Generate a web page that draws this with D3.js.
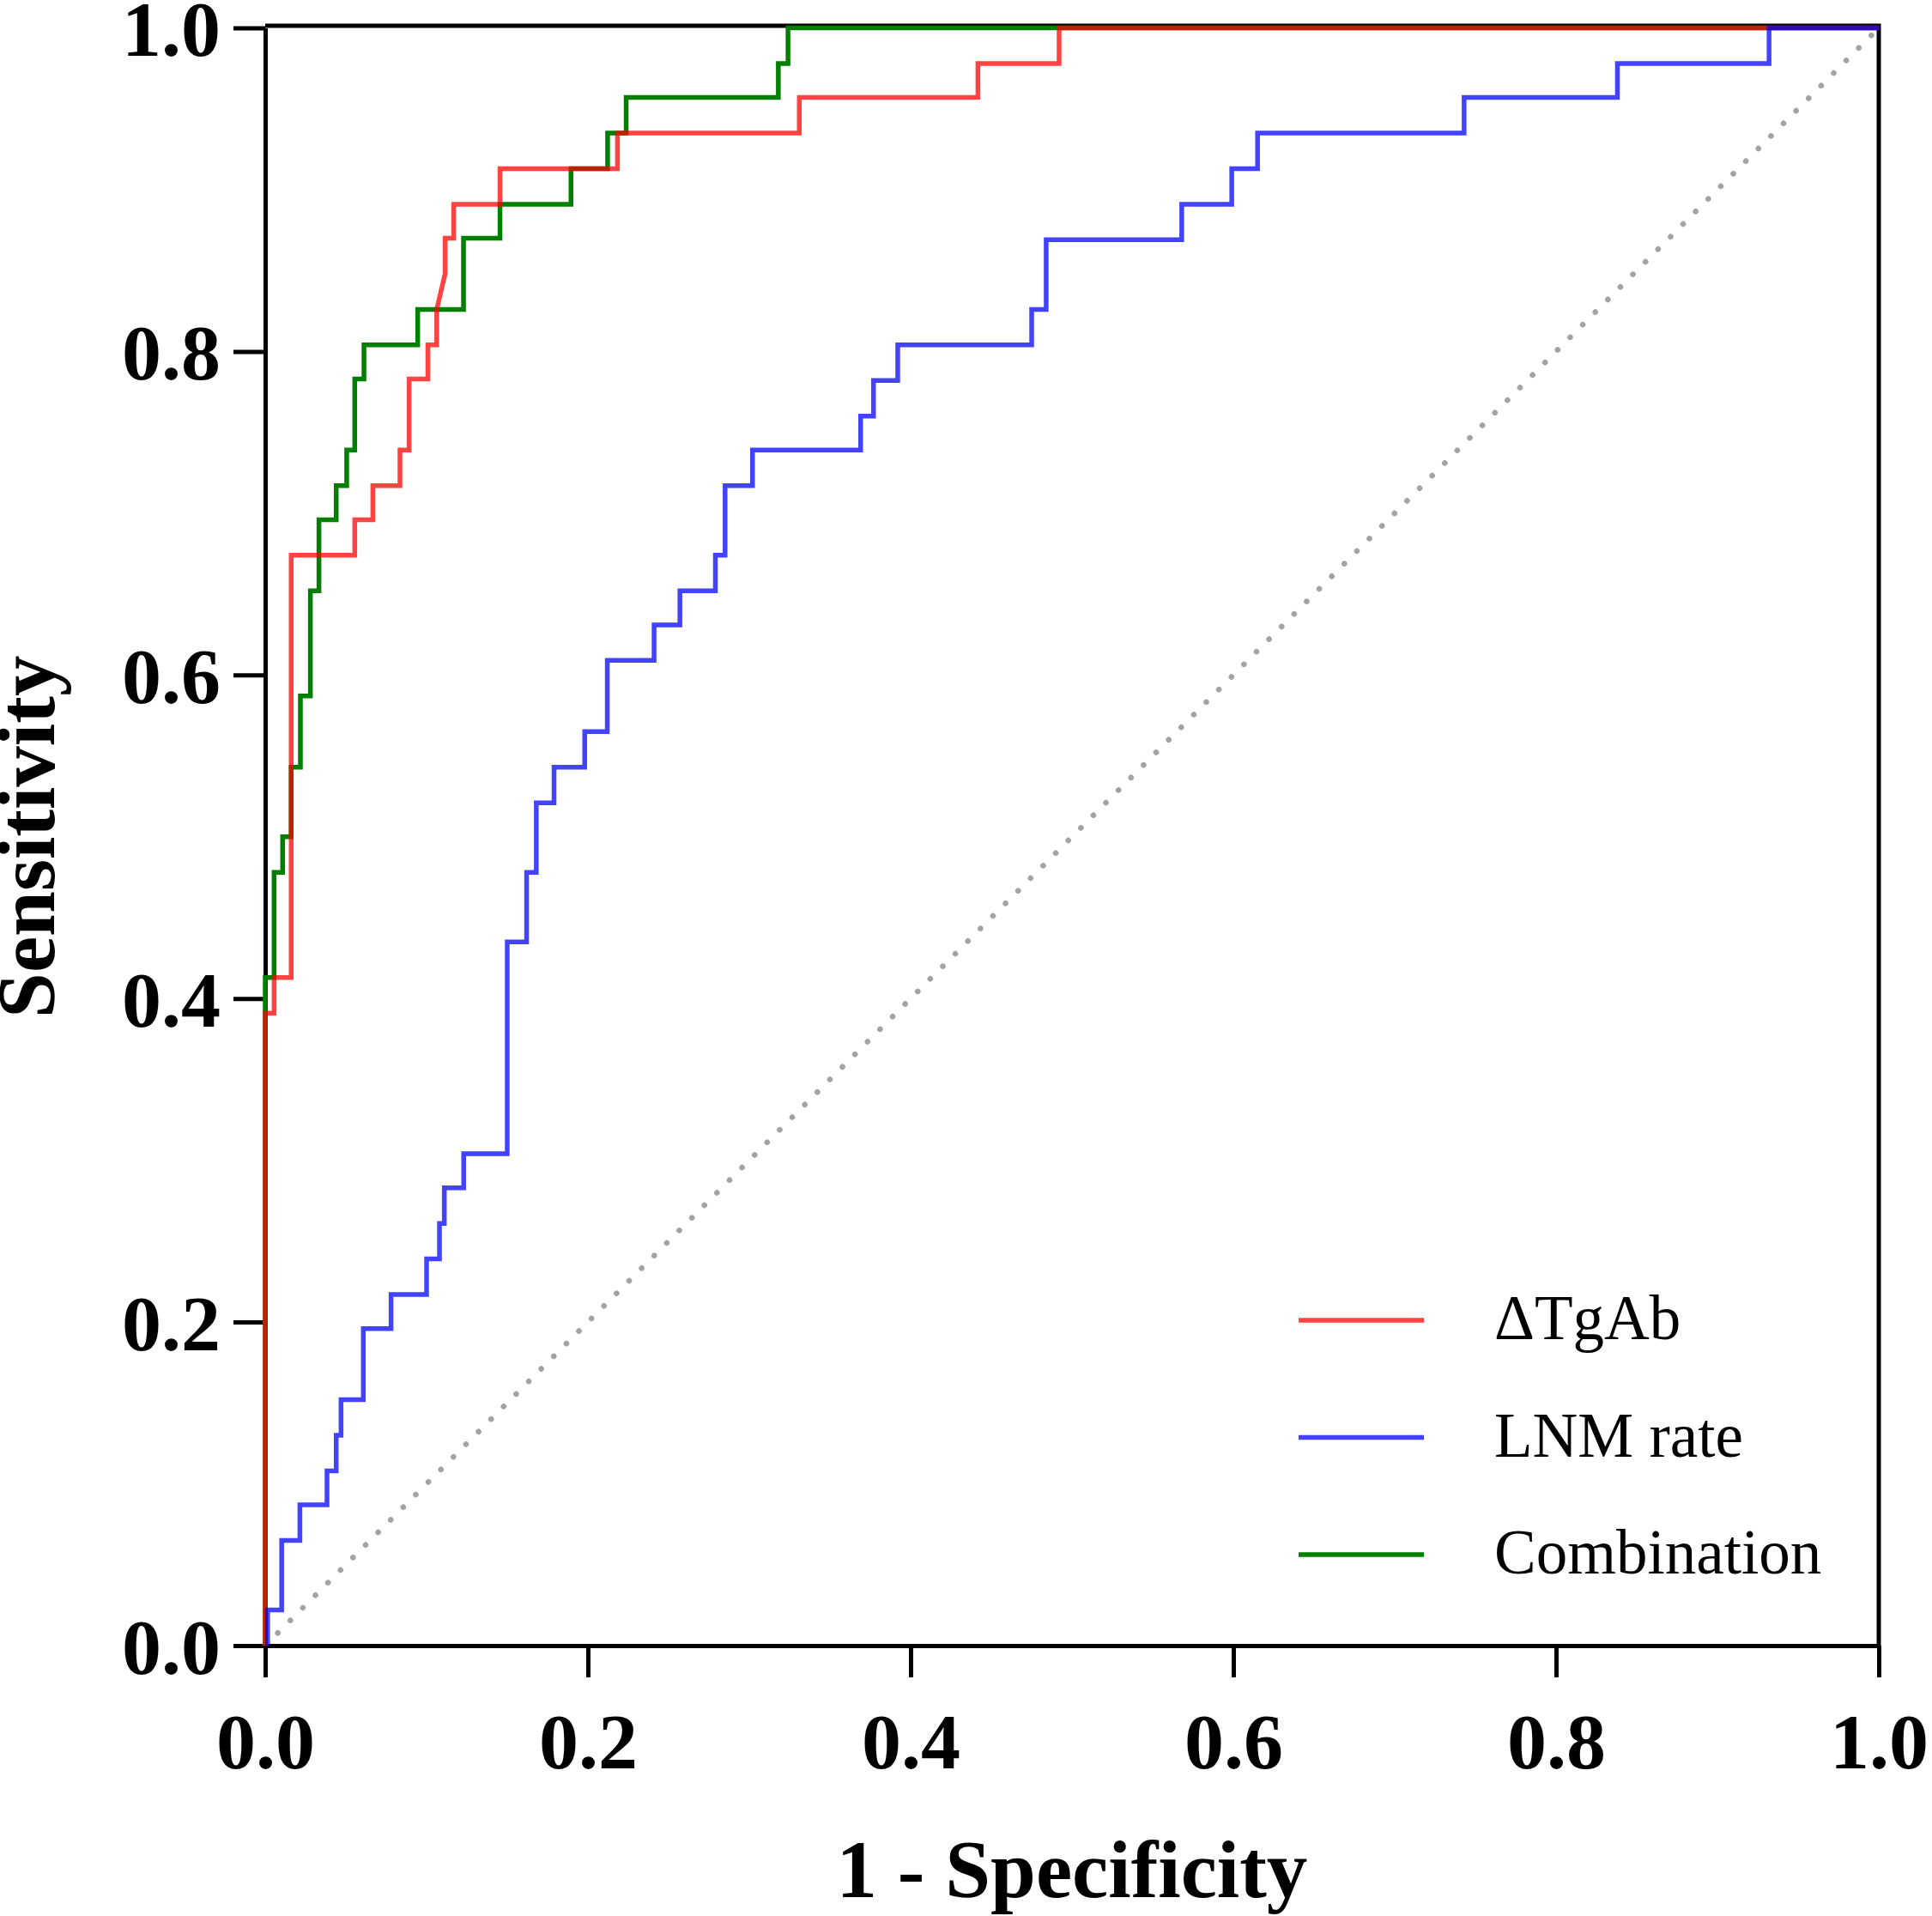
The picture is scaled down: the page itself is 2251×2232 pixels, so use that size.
<!DOCTYPE html>
<html>
<head>
<meta charset="utf-8">
<script src="https://cdn.jsdelivr.net/npm/d3@7"></script>
<style>
  html, body { margin: 0; padding: 0; background: #fff; }
  svg { display: block; }
</style>
</head>
<body>
<div id="content"><svg width="2251" height="2232"></svg></div>
<script>
// ROC curves, points as [1 - specificity, sensitivity]
var tgabPoints = [
    [0, 0], [0, 0.391], [0.0055, 0.391], [0.0055, 0.413], [0.0161, 0.413], [0.0161, 0.674],
    [0.0555, 0.674], [0.0555, 0.696], [0.0667, 0.696], [0.0667, 0.717], [0.0835, 0.717],
    [0.0835, 0.739], [0.0892, 0.739], [0.0892, 0.783], [0.1008, 0.783], [0.1008, 0.804],
    [0.1063, 0.804], [0.1063, 0.826], [0.1115, 0.848], [0.1115, 0.870], [0.1168, 0.870],
    [0.1168, 0.891], [0.1455, 0.891], [0.1455, 0.913], [0.2183, 0.913], [0.2183, 0.935],
    [0.331, 0.935], [0.331, 0.957], [0.4417, 0.957], [0.4417, 0.978], [0.492, 0.978],
    [0.492, 1], [1, 1]
];

var lnmPoints = [
    [0.0015, 0], [0.0015, 0.022], [0.0102, 0.022], [0.0102, 0.065], [0.0215, 0.065], [0.0215, 0.087],
    [0.0383, 0.087], [0.0383, 0.108], [0.044, 0.108], [0.044, 0.130], [0.047, 0.130], [0.047, 0.152],
    [0.0608, 0.152], [0.0608, 0.196], [0.078, 0.196], [0.078, 0.217], [0.100, 0.217], [0.100, 0.239],
    [0.108, 0.239], [0.108, 0.261], [0.111, 0.261], [0.111, 0.283], [0.123, 0.283], [0.123, 0.304],
    [0.150, 0.304], [0.150, 0.435], [0.162, 0.435], [0.162, 0.478], [0.168, 0.478], [0.168, 0.521],
    [0.179, 0.521], [0.179, 0.543], [0.198, 0.543], [0.198, 0.565], [0.212, 0.565], [0.212, 0.609],
    [0.241, 0.609], [0.241, 0.631], [0.257, 0.631], [0.257, 0.652], [0.279, 0.652], [0.279, 0.674],
    [0.285, 0.674], [0.285, 0.717], [0.302, 0.717], [0.302, 0.739], [0.369, 0.739], [0.369, 0.760],
    [0.377, 0.760], [0.377, 0.782], [0.392, 0.782], [0.392, 0.804], [0.475, 0.804], [0.475, 0.826],
    [0.484, 0.826], [0.484, 0.869], [0.568, 0.869], [0.568, 0.891], [0.599, 0.891], [0.599, 0.913],
    [0.615, 0.913], [0.615, 0.935], [0.743, 0.935], [0.743, 0.957], [0.838, 0.957], [0.838, 0.978],
    [0.932, 0.978], [0.932, 1], [1, 1]
];

var comboPoints = [
    [0, 0], [0, 0.413], [0.0055, 0.413], [0.0055, 0.478], [0.0108, 0.478], [0.0108, 0.5],
    [0.0161, 0.5], [0.0161, 0.543], [0.0218, 0.543], [0.0218, 0.587], [0.028, 0.587], [0.028, 0.652],
    [0.0333, 0.652], [0.0333, 0.696], [0.044, 0.696], [0.044, 0.717], [0.0505, 0.717], [0.0505, 0.739],
    [0.0555, 0.739], [0.0555, 0.783], [0.0612, 0.783], [0.0612, 0.804], [0.0945, 0.804], [0.0945, 0.826],
    [0.1229, 0.826], [0.1229, 0.870], [0.1455, 0.870], [0.1455, 0.891], [0.1895, 0.891], [0.1895, 0.913],
    [0.2122, 0.913], [0.2122, 0.935], [0.2237, 0.935], [0.2237, 0.957], [0.318, 0.957], [0.318, 0.978],
    [0.324, 0.978], [0.324, 1], [1, 1]
];

var refLine = [[0, 0], [1, 1]];

var seriesNames = ['\u0394TgAb', 'LNM rate', 'Combination'];
var seriesColors = ['rgba(255,0,0,0.74)', 'rgba(0,0,255,0.74)', '#008000'];
var tickValues = [0, 0.2, 0.4, 0.6, 0.8, 1.0];

var svg = d3.select('#content').select('svg');
var margin = {top: 32.5, right: 62, bottom: 315, left: 309},
    width = +svg.attr('width') - margin.left - margin.right,
    height = +svg.attr('height') - margin.top - margin.bottom;

var g = svg.append('g')
    .attr('transform', 'translate(' + margin.left + ',' + margin.top + ')');

var xScale = d3.scaleLinear().domain([0, 1]).range([0, width]);
var yScale = d3.scaleLinear().domain([0, 1]).range([height, 0]);

var font = '"Liberation Serif", "Times New Roman", serif';

// frame (top + right)
g.append('path')
    .attr('d', 'M0,' + (yScale(1) - 2.5) + 'H' + xScale(1) + 'V' + height)
    .attr('fill', 'none')
    .attr('stroke', '#000')
    .attr('stroke-width', 5);

// chance line
g.append('path')
    .datum(refLine)
    .attr('d', d3.line().x(function (d) {return xScale(d[0]);}).y(function (d) {return yScale(d[1]);}))
    .attr('fill', 'none')
    .attr('stroke', '#a3a3a3')
    .attr('stroke-width', 6.5)
    .attr('stroke-linecap', 'round')
    .attr('stroke-dasharray', '0.1 20.6');

// axes
var xAxis = g.append('g')
    .attr('transform', 'translate(0,' + height + ')')
    .call(d3.axisBottom(xScale).tickValues(tickValues).tickFormat(d3.format('.1f'))
        .tickSize(37).tickSizeOuter(0).tickPadding(41));

var yAxis = g.append('g')
    .call(d3.axisLeft(yScale).tickValues(tickValues).tickFormat(d3.format('.1f'))
        .tickSize(37).tickSizeOuter(0).tickPadding(15));

[xAxis, yAxis].forEach(function (a) {
    a.select('.domain').attr('stroke', '#000').attr('stroke-width', 5);
    a.selectAll('.tick line').attr('stroke', '#000').attr('stroke-width', 5);
    a.selectAll('.tick text')
        .attr('fill', '#000')
        .style('font-family', font)
        .style('font-weight', 'bold')
        .style('font-size', '92px');
});
yAxis.selectAll('.tick text').attr('dy', '0.35em');

// curves: green under red under blue
var line = d3.line()
    .x(function (d) {return xScale(d[0]);})
    .y(function (d) {return yScale(d[1]);});

var curves = [
    {pts: comboPoints, color: seriesColors[2]},
    {pts: tgabPoints, color: seriesColors[0]},
    {pts: lnmPoints, color: seriesColors[1]}
];

g.selectAll('path.roc')
    .data(curves)
    .enter()
    .append('path')
    .attr('class', 'roc')
    .attr('d', function (d) {return line(d.pts);})
    .attr('fill', 'none')
    .attr('stroke', function (d) {return d.color;})
    .attr('stroke-width', 5.5)
    .attr('stroke-linejoin', 'miter')
    .attr('stroke-linecap', 'butt');

// axis titles
svg.append('text')
    .attr('x', margin.left + width / 2)
    .attr('y', 2210)
    .attr('text-anchor', 'middle')
    .style('font-family', font)
    .style('font-weight', 'bold')
    .style('font-size', '95px')
    .text('1 - Specificity');

svg.append('text')
    .attr('transform', 'translate(63,' + (margin.top + height / 2) + ') rotate(-90)')
    .attr('text-anchor', 'middle')
    .style('font-family', font)
    .style('font-weight', 'bold')
    .style('font-size', '95px')
    .text('Sensitivity');

// legend
var legend = svg.append('g').attr('transform', 'translate(1513,1538)');
var item = legend.selectAll('g')
    .data(seriesNames)
    .enter()
    .append('g')
    .attr('transform', function (d, i) {return 'translate(0,' + (i * 136.5) + ')';});

item.append('line')
    .attr('x1', 0).attr('x2', 146)
    .attr('stroke', function (d, i) {return seriesColors[i];})
    .attr('stroke-width', 5.5);

item.append('text')
    .attr('x', 228)
    .attr('y', 22)
    .style('font-family', font)
    .style('font-size', '73px')
    .text(function (d) {return d;});
</script>
</body>
</html>
